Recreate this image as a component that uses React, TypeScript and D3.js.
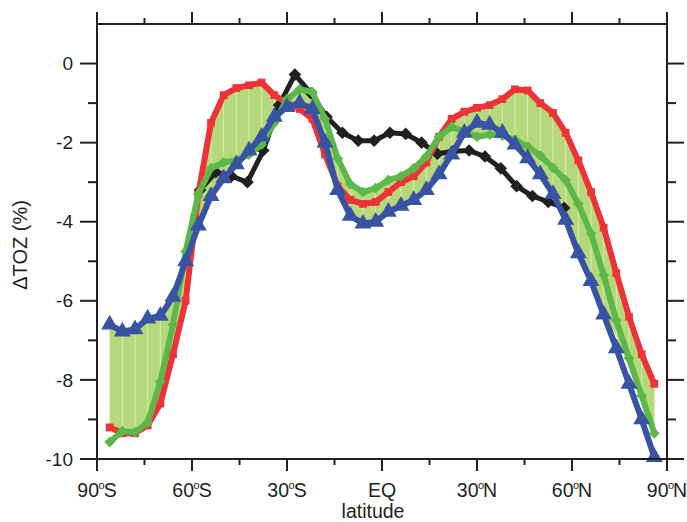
import React from 'react';
import * as d3 from 'd3';

const modelLats = [-86, -82, -78, -74, -70, -66, -62, -58, -54, -50, -46, -42, -38, -34, -30, -26, -22, -18, -14, -10, -6, -2, 2, 6, 10, 14, 18, 22, 26, 30, 34, 38, 42, 46, 50, 54, 58, 62, 66, 70, 74, 78, 82, 86];
const redSeries = [-9.2, -9.35, -9.35, -9.15, -8.6, -7.35, -6.0, -3.3, -1.5, -0.8, -0.62, -0.55, -0.48, -0.8, -1.0, -1.15, -1.4, -2.3, -3.1, -3.45, -3.55, -3.5, -3.25, -3.0, -2.85, -2.5, -1.85, -1.4, -1.22, -1.12, -1.05, -0.9, -0.65, -0.68, -1.0, -1.25, -1.75, -2.45, -3.25, -4.15, -5.3, -6.4, -7.35, -8.1];
const greenSeries = [-9.57, -9.3, -9.32, -9.08, -8.05, -6.6, -4.75, -3.3, -2.65, -2.5, -2.45, -2.3, -2.05, -1.5, -0.9, -0.65, -0.72, -1.4, -2.4, -3.05, -3.25, -3.15, -2.95, -2.85, -2.65, -2.35, -1.85, -1.6, -1.72, -1.85, -1.8, -1.82, -1.93, -2.1, -2.33, -2.64, -2.95, -3.55, -4.3, -5.35, -6.5, -7.45, -8.4, -9.35];
const blueSeries = [-6.6, -6.78, -6.72, -6.45, -6.38, -5.9, -5.0, -4.1, -3.35, -2.9, -2.55, -2.2, -1.85, -1.35, -1.1, -1.0, -1.15, -2.0, -3.2, -3.85, -4.05, -4.0, -3.75, -3.6, -3.45, -3.2, -2.8, -2.3, -1.75, -1.5, -1.55, -1.75, -2.05, -2.4, -2.8, -3.3, -3.95, -4.8, -5.5, -6.35, -7.2, -8.1, -9.0, -9.95];
const bandUpper = [-6.6, -6.78, -6.72, -6.45, -6.38, -5.9, -4.75, -3.3, -1.5, -0.8, -0.62, -0.55, -0.48, -0.8, -0.9, -0.65, -0.72, -1.4, -2.4, -3.05, -3.25, -3.15, -2.95, -2.85, -2.65, -2.35, -1.85, -1.4, -1.22, -1.12, -1.05, -0.9, -0.65, -0.68, -1.0, -1.25, -1.75, -2.45, -3.25, -4.15, -5.3, -6.4, -7.35, -8.1];
const bandLower = [-9.15, -9.35, -9.35, -9.15, -8.6, -7.35, -6.0, -4.1, -3.35, -2.9, -2.55, -2.3, -2.05, -1.5, -1.1, -1.15, -1.4, -2.3, -3.2, -3.85, -4.05, -4.0, -3.75, -3.6, -3.45, -3.2, -2.8, -2.3, -1.75, -1.85, -1.8, -1.82, -2.05, -2.4, -2.8, -3.3, -3.95, -4.8, -5.5, -6.3, -6.9, -7.7, -8.55, -9.2];

const obsLats = [-57.5, -52.5, -47.5, -42.5, -37.5, -32.5, -27.5, -22.5, -17.5, -12.5, -7.5, -2.5, 2.5, 7.5, 12.5, 17.5, 22.5, 27.5, 32.5, 37.5, 42.5, 47.5, 52.5, 57.5];
const blackSeries = [-3.2, -2.75, -2.85, -3.0, -2.2, -1.05, -0.28, -0.75, -1.35, -1.75, -1.95, -1.95, -1.75, -1.78, -2.0, -2.28, -2.22, -2.2, -2.35, -2.65, -3.1, -3.35, -3.5, -3.65];

const yTicksMajor = [0, -2, -4, -6, -8, -10];
const yTicksMinor = [-1, -3, -5, -7, -9];
const xTicksMajor = [-90, -60, -30, 0, 30, 60, 90];
const xTicksMinor = [-75, -45, -15, 15, 45, 75];
const xTickNums = ['90', '60', '30', 'EQ', '30', '60', '90'];
const xTickHemi = ['S', 'S', 'S', '', 'N', 'N', 'N'];

const RED = '#ee3338';
const GREEN = '#5cb848';
const BLUE = '#3953a4';
const BLACK = '#231f20';
const FILL = '#b5d87a';
const FONT = '"Liberation Sans", Arial, Helvetica, sans-serif';

export default function App() {
  const W = 687, H = 522;
  const left = 97, right = 667, top = 24, bottom = 459;
  const x = d3.scaleLinear().domain([-90, 90]).range([left, right]);
  const y = d3.scaleLinear().domain([-10, 1]).range([bottom, top]);

  const area = d3.area<number>()
    .x((_, i) => x(modelLats[i]))
    .y0((_, i) => y(bandLower[i]))
    .y1((_, i) => y(bandUpper[i]));

  const mkLine = (lats: number[]) => d3.line<number>()
    .x((_, i) => x(lats[i]))
    .y((d) => y(d));

  const square = d3.symbol().type(d3.symbolSquare).size(60)() as string;
  const diamondBlack = d3.symbol().type(d3.symbolSquare).size(80)() as string;
  const diamondGreen = d3.symbol().type(d3.symbolSquare).size(58)() as string;
  const triangle = d3.symbol().type(d3.symbolTriangle).size(125)() as string;

  const axisW = 2;

  return (
    <svg width={W} height={H} style={{ position: 'absolute', left: 0, top: 0, background: '#fff' }} fontFamily={FONT}>
      <path d={area(bandUpper) || ''} fill={FILL} stroke="none" />
      {modelLats.map((lat, i) => (
        <line key={'v' + i} x1={x(lat)} x2={x(lat)} y1={y(bandUpper[i])} y2={y(bandLower[i])} stroke="#d9eab8" strokeWidth={1} />
      ))}

      <path d={mkLine(obsLats)(blackSeries) || ''} fill="none" stroke={BLACK} strokeWidth={5} strokeLinejoin="round" />
      {blackSeries.map((v, i) => (
        <path key={'k' + i} d={diamondBlack} transform={`translate(${x(obsLats[i])},${y(v)}) rotate(45)`} fill={BLACK} />
      ))}

      <path d={mkLine(modelLats)(redSeries) || ''} fill="none" stroke={RED} strokeWidth={6} strokeLinejoin="round" />
      {redSeries.map((v, i) => (
        <path key={'r' + i} d={square} transform={`translate(${x(modelLats[i])},${y(v)})`} fill={RED} />
      ))}

      <path d={mkLine(modelLats)(greenSeries) || ''} fill="none" stroke={GREEN} strokeWidth={6} strokeLinejoin="round" />
      {greenSeries.map((v, i) => (
        <path key={'g' + i} d={diamondGreen} transform={`translate(${x(modelLats[i])},${y(v)}) rotate(45)`} fill={GREEN} />
      ))}

      <path d={mkLine(modelLats)(blueSeries) || ''} fill="none" stroke={BLUE} strokeWidth={6} strokeLinejoin="round" />
      {blueSeries.map((v, i) => (
        <path key={'b' + i} d={triangle} transform={`translate(${x(modelLats[i])},${y(v)})`} fill={BLUE} />
      ))}

      <rect x={left} y={top} width={right - left} height={bottom - top} fill="none" stroke={BLACK} strokeWidth={axisW} />

      {yTicksMajor.map((t) => (
        <g key={'ym' + t}>
          <line x1={left - 17} x2={left} y1={y(t)} y2={y(t)} stroke={BLACK} strokeWidth={axisW} />
          <line x1={right} x2={right + 17} y1={y(t)} y2={y(t)} stroke={BLACK} strokeWidth={axisW} />
          <text x={left - 24} y={y(t)} dy="0.35em" textAnchor="end" fontSize={19} fill={BLACK}>{String(t)}</text>
        </g>
      ))}
      {yTicksMinor.map((t) => (
        <g key={'yn' + t}>
          <line x1={left - 9} x2={left} y1={y(t)} y2={y(t)} stroke={BLACK} strokeWidth={axisW} />
          <line x1={right} x2={right + 9} y1={y(t)} y2={y(t)} stroke={BLACK} strokeWidth={axisW} />
        </g>
      ))}

      {xTicksMajor.map((t, i) => (
        <g key={'xm' + t}>
          <line x1={x(t)} x2={x(t)} y1={bottom} y2={bottom + 12} stroke={BLACK} strokeWidth={axisW} />
          <line x1={x(t)} x2={x(t)} y1={top - 12} y2={top} stroke={BLACK} strokeWidth={axisW} />
          <text x={x(t)} y={497} textAnchor="middle" fontSize={19.5} fill={BLACK}>
            {xTickNums[i]}
            {xTickHemi[i] ? (
              <>
                <tspan fontSize={11} dy={-8} dx={-0.5}>o</tspan>
                <tspan dy={8} dx={-1}>{xTickHemi[i]}</tspan>
              </>
            ) : null}
          </text>
        </g>
      ))}
      {xTicksMinor.map((t) => (
        <g key={'xn' + t}>
          <line x1={x(t)} x2={x(t)} y1={bottom} y2={bottom + 6} stroke={BLACK} strokeWidth={axisW} />
          <line x1={x(t)} x2={x(t)} y1={top - 6} y2={top} stroke={BLACK} strokeWidth={axisW} />
        </g>
      ))}

      <text x={(left + right) / 2 - 9} y={518} textAnchor="middle" fontSize={19.5} fill={BLACK}>latitude</text>
      <text transform="translate(27,245) rotate(-90)" textAnchor="middle" fontSize={20} fill={BLACK}>ΔTOZ (%)</text>
    </svg>
  );
}
